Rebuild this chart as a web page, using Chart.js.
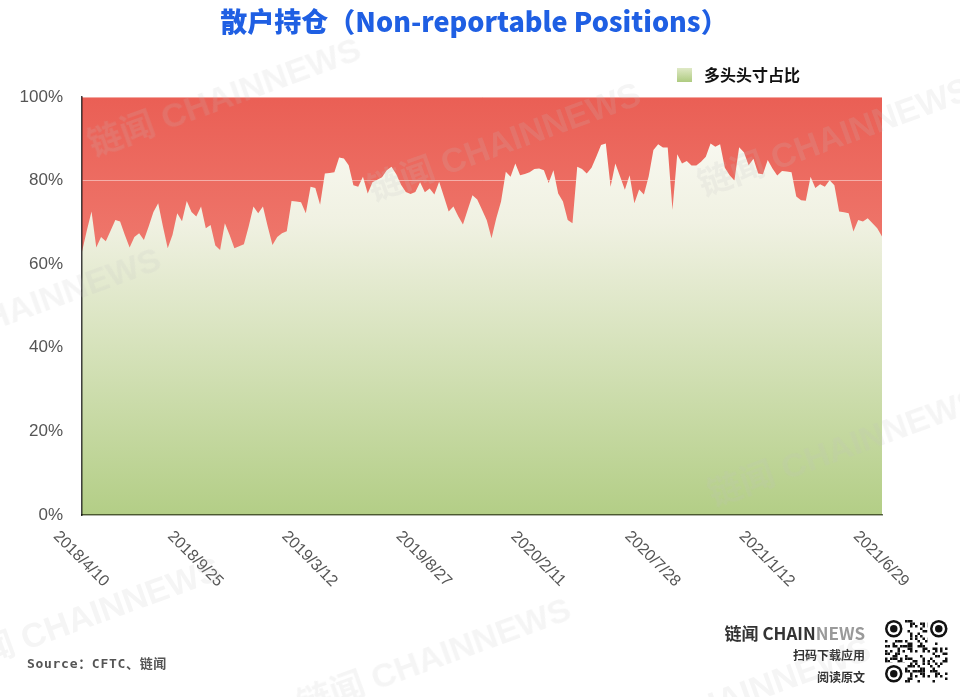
<!DOCTYPE html>
<html>
<head>
<meta charset="utf-8">
<script src="https://cdn.jsdelivr.net/npm/chart.js@4.4.1/dist/chart.umd.min.js"></script>
<style>
  body { margin: 0; background: #fff; }
  #page { position: relative; width: 960px; height: 697px; overflow: hidden; font-family: "Liberation Sans", Arial, sans-serif; }
  #chart-box { position: absolute; left: 0; top: 0; width: 960px; height: 697px; }
  .title { position: absolute; top: 1px; left: 0; width: 948px; text-align: center; font: 900 27px "Noto Sans CJK SC", sans-serif; color: #1f5fe3; }
  .legend { position: absolute; left: 677px; top: 62px; font: bold 16px "Noto Sans CJK SC", sans-serif; color: #111; }
  .legend i { display: inline-block; width: 15px; height: 14px; margin-right: 12px; vertical-align: -1px; background: linear-gradient(#dfe9c6, #aecb80); }
  .source { position: absolute; left: 27px; top: 653px; font: bold 13px "DejaVu Sans Mono", "Noto Sans CJK SC", monospace; color: #555; letter-spacing: 0.7px; }
  .brand { position: absolute; right: 95px; top: 622px; text-align: right; font-family: "Noto Sans CJK SC", sans-serif; font-weight: bold; color: #333; }
  .brand .b1 { font-size: 17px; line-height: 22px; }
  .brand .b1 span { color: #9a9a9a; }
  .brand .b2 { font-size: 12px; line-height: 22px; }
  .wm { position: absolute; font: bold 34px "Liberation Sans", "Noto Sans CJK SC", sans-serif; color: rgba(190,190,190,0.16); transform: rotate(-20deg); transform-origin: left top; white-space: nowrap; pointer-events: none; }
  #qr { position: absolute; left: 885px; top: 620px; }
</style>
</head>
<body>
<div id="page">
  <div id="chart-box"><canvas id="c"></canvas></div>
  <div class="title">散户持仓（Non-reportable Positions）</div>
  <div class="legend"><i></i>多头头寸占比</div>
  <div class="source">Source：CFTC、链闻</div>
  <div class="brand">
    <div class="b1">链闻 CHAIN<span>NEWS</span></div>
    <div class="b2">扫码下载应用</div>
    <div class="b2">阅读原文</div>
  </div>
  <canvas id="qr" width="63" height="64"></canvas>
  <div class="wm" style="left:80px;top:120px">链闻 CHAINNEWS</div>
  <div class="wm" style="left:360px;top:165px">链闻 CHAINNEWS</div>
  <div class="wm" style="left:690px;top:160px">链闻 CHAINNEWS</div>
  <div class="wm" style="left:-120px;top:330px">链闻 CHAINNEWS</div>
  <div class="wm" style="left:700px;top:470px">链闻 CHAINNEWS</div>
  <div class="wm" style="left:-60px;top:640px">链闻 CHAINNEWS</div>
  <div class="wm" style="left:290px;top:680px">链闻 CHAINNEWS</div>
  <div class="wm" style="left:590px;top:720px">链闻 CHAINNEWS</div>
</div>
<script>
// weekly reports, 2018/4/10 .. 2021/6/29
const START = new Date(2018, 3, 10);
const WEEKS = 169;
const TICK_LABELS = ['2018/4/10', '2018/9/25', '2019/3/12', '2019/8/27', '2020/2/11', '2020/7/28', '2021/1/12', '2021/6/29'];
const TICK_EVERY = 24;
const Y_TICKS = [0, 20, 40, 60, 80, 100];

// 多头头寸占比 (%)
const LONG_PCT = [
  63, 68, 72.6, 64, 66.5, 65.5, 68, 70.6, 70.2, 67,
  64, 66.5, 67.4, 65.8, 69, 72.5, 74.6, 69, 63.8, 67,
  72.2, 70.3, 75.1, 72.5, 71.4, 73.8, 68.6, 69.4, 64.5, 63.4,
  69.8, 67, 63.8, 64.3, 64.8, 69, 73.8, 72.2, 73.8, 69,
  64.6, 66.5, 67.4, 67.9, 75.1, 75, 74.8, 72.2, 78.5, 78.2,
  74.2, 81.7, 81.8, 82, 85.5, 85.3, 83.7, 78.9, 78.5, 80.9,
  76.9, 79.6, 80.2, 80.8, 82.5, 83.3, 81.5, 79, 77.3, 76.8,
  77.3, 79.6, 77.2, 78.1, 76.7, 79.7, 76.2, 72.6, 73.8, 71.5,
  69.5, 73, 76.5, 75.5, 73, 70.5, 66.2, 71, 75, 82.1,
  80.9, 84.1, 81.3, 81.6, 82, 82.8, 82.9, 82.5, 79.4, 82.5,
  76.9, 75, 70.6, 69.8, 83.3, 82.8, 81.7, 83.1, 85.7, 88.5,
  88.9, 78.5, 84.1, 81, 77.8, 81.3, 74.6, 77.9, 76.7, 81,
  87.3, 88.7, 87.9, 87.9, 73, 86.3, 84.1, 84.7, 83.6, 83.6,
  84.5, 85.7, 88.9, 88.1, 88.7, 83.1, 81.3, 80, 88, 86.8,
  83.7, 85.2, 81.7, 81.5, 84.9, 82.9, 81.2, 82.3, 82.2, 82,
  76.2, 75.3, 75.2, 80.9, 78.2, 79.1, 78.5, 80.1, 78.9, 72.6,
  72.4, 72.2, 67.8, 70.6, 70.2, 71, 69.8, 68.6, 66.6
];

const labels = [];
for (let i = 0; i < WEEKS; i++) {
  const d = new Date(START.getTime() + i * 7 * 86400000);
  labels.push(d.getFullYear() + '/' + (d.getMonth() + 1) + '/' + d.getDate());
}

// red "short" part behind everything, so the grid line still shows on it
const shortBg = {
  id: 'shortBg',
  beforeDraw(chart) {
    const { ctx, chartArea: a } = chart;
    const g = ctx.createLinearGradient(0, a.top, 0, a.bottom);
    g.addColorStop(0, '#ea5f55');
    g.addColorStop(1, '#f6a093');
    ctx.save();
    ctx.fillStyle = g;
    ctx.fillRect(a.left, a.top, a.right - a.left, a.bottom - a.top);
    ctx.restore();
  }
};

// rotated date labels, centred under their tick
const dateTicks = {
  id: 'dateTicks',
  afterDraw(chart) {
    const { ctx, scales: { x }, chartArea: a } = chart;
    ctx.save();
    ctx.font = '16px "Liberation Sans", Arial, sans-serif';
    ctx.fillStyle = '#555';
    ctx.textAlign = 'center';
    ctx.textBaseline = 'middle';
    TICK_LABELS.forEach((t, k) => {
      const px = x.getPixelForValue(k * TICK_EVERY);
      ctx.save();
      ctx.translate(px - 1, a.bottom + 44);
      ctx.rotate(Math.PI / 4);
      ctx.fillText(t, 0, 0);
      ctx.restore();
    });
    ctx.restore();
  }
};

new Chart(document.getElementById('c'), {
  type: 'line',
  data: {
    labels: labels,
    datasets: [{
      label: '多头头寸占比',
      data: LONG_PCT,
      fill: 'origin',
      borderWidth: 0,
      pointRadius: 0,
      tension: 0,
      backgroundColor: (c) => {
        const a = c.chart.chartArea;
        if (!a) return '#c8dba6';
        const g = c.chart.ctx.createLinearGradient(0, a.top, 0, a.bottom);
        g.addColorStop(0, '#fcfcf7');
        g.addColorStop(0.3, '#f0f1e2');
        g.addColorStop(1, '#b3ce86');
        return g;
      }
    }]
  },
  options: {
    responsive: true,
    maintainAspectRatio: false,
    animation: false,
    layout: { padding: { left: 0, right: 78, top: 97, bottom: 182 } },
    plugins: { legend: { display: false }, tooltip: { enabled: false } },
    scales: {
      x: {
        ticks: { display: false },
        grid: { display: false },
        border: { display: true, color: 'rgba(30,40,10,0.7)', width: 1.5, z: 1 },
        afterFit: (s) => { s.height = 0; }
      },
      y: {
        min: 0,
        max: 100,
        afterBuildTicks: (s) => { s.ticks = Y_TICKS.map(v => ({ value: v })); },
        ticks: {
          padding: 19,
          color: '#555',
          font: { size: 17, family: '"Liberation Sans", Arial, sans-serif' },
          callback: (v) => v + '%'
        },
        grid: { color: 'rgba(255,255,255,0.45)', lineWidth: 1, drawTicks: false },
        border: { display: true, color: 'rgba(0,0,0,0.75)', width: 1.5, z: 1 },
        afterFit: (s) => { s.width = 82; }
      }
    }
  },
  plugins: [shortBg, dateTicks]
});

// small QR-like badge
(function () {
  const q = document.getElementById('qr').getContext('2d');
  const n = 25, m = 2.5;
  q.fillStyle = '#fff';
  q.fillRect(0, 0, 63, 64);
  q.fillStyle = '#111';
  const seed = 'chainnews.com/app';
  for (let r = 0; r < n; r++) {
    for (let c = 0; c < n; c++) {
      const ch = seed.charCodeAt((r * 7 + c * 3) % seed.length);
      if (((ch * (r + 3) + c * 11 + r * c) % 5) < 2) q.fillRect(c * m, r * m, m, m);
    }
  }
  [[0, 0], [0, 18], [18, 0]].forEach(([r, c]) => {
    q.fillStyle = '#fff'; q.fillRect(c * m - m, r * m - m, 9 * m, 9 * m);
    q.fillStyle = '#111'; q.beginPath(); q.arc((c + 3.5) * m, (r + 3.5) * m, 3.5 * m, 0, Math.PI * 2); q.fill();
    q.fillStyle = '#fff'; q.beginPath(); q.arc((c + 3.5) * m, (r + 3.5) * m, 2.5 * m, 0, Math.PI * 2); q.fill();
    q.fillStyle = '#111'; q.beginPath(); q.arc((c + 3.5) * m, (r + 3.5) * m, 1.5 * m, 0, Math.PI * 2); q.fill();
  });
})();
</script>
</body>
</html>
